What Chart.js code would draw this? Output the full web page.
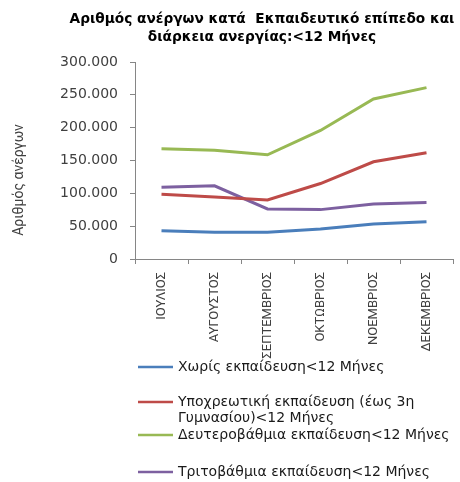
<!DOCTYPE html>
<html>
<head>
<meta charset="utf-8">
<script src="https://cdn.jsdelivr.net/npm/chart.js@4.4.1/dist/chart.umd.min.js"></script>
<style>
  html, body { margin: 0; padding: 0; background: #fff; }
</style>
</head>
<body>
<canvas id="chart" width="460" height="482"></canvas>
<script>
const months = ['ΙΟΥΛΙΟΣ', 'ΑΥΓΟΥΣΤΟΣ', 'ΣΕΠΤΕΜΒΡΙΟΣ', 'ΟΚΤΩΒΡΙΟΣ', 'ΝΟΕΜΒΡΙΟΣ', 'ΔΕΚΕΜΒΡΙΟΣ']

const noEducation = [43200, 40600, 40600, 45800, 53400, 56900]
const compulsory = [98600, 94600, 90000, 114900, 148000, 161800]
const secondary = [167900, 165700, 158700, 195800, 243600, 261000]
const tertiary = [109300, 111400, 76300, 75200, 83900, 85900]

const seriesNames = [
  'Χωρίς εκπαίδευση<12 Μήνες',
  'Υποχρεωτική εκπαίδευση (έως 3η Γυμνασίου)<12 Μήνες',
  'Δευτεροβάθμια εκπαίδευση<12 Μήνες',
  'Τριτοβάθμια εκπαίδευση<12 Μήνες'
]
const seriesColors = ['#4A7EBB', '#BE4B48', '#98B954', '#7D60A0']

const titleLines = ['Αριθμός ανέργων κατά  Εκπαιδευτικό επίπεδο και', 'διάρκεια ανεργίας:<12 Μήνες']
const yTitle = 'Αριθμός ανέργων'

const yMin = 0
const yMax = 300000
const yStep = 50000

const axisColor = '#868686'
const textColor = '#404040'

function formatThousands(v) {
  return String(v).replace(/\B(?=(\d{3})+(?!\d))/g, '.')
}

// title, rotated y title and the vertical legend are drawn by hand
const decorations = {
  id: 'decorations',
  afterDraw(chart) {
    const ctx = chart.ctx
    ctx.save()

    ctx.fillStyle = '#000'
    ctx.font = 'bold 13.7px "DejaVu Sans"'
    ctx.textAlign = 'center'
    ctx.textBaseline = 'middle'
    ctx.fillText(titleLines[0], 262, 19)
    ctx.fillText(titleLines[1], 262, 37)

    ctx.save()
    ctx.translate(19, 180)
    ctx.rotate(-Math.PI / 2)
    ctx.fillStyle = textColor
    ctx.font = '14px "Liberation Sans Narrow", Roboto'
    ctx.fillText(yTitle, 0, 0)
    ctx.restore()

    const rowY = [367, 402, 435, 472]
    ctx.font = '14px "DejaVu Sans"'
    ctx.textAlign = 'left'
    chart.data.datasets.forEach((ds, i) => {
      const y = rowY[i]
      ctx.strokeStyle = ds.borderColor
      ctx.lineWidth = 2.5
      ctx.beginPath()
      ctx.moveTo(138, y)
      ctx.lineTo(173, y)
      ctx.stroke()

      // wrap long labels
      const words = ds.label.split(' ')
      let lines = []
      let line = ''
      words.forEach(w => {
        const test = line ? line + ' ' + w : w
        if (ctx.measureText(test).width > 280 && line) {
          lines.push(line)
          line = w
        } else {
          line = test
        }
      })
      lines.push(line)
      ctx.fillStyle = '#1a1a1a'
      lines.forEach((l, j) => ctx.fillText(l, 178, y + j * 16))
    })

    ctx.restore()
  }
}

const datasets = [noEducation, compulsory, secondary, tertiary].map((values, i) => ({
  label: seriesNames[i],
  data: values,
  borderColor: seriesColors[i],
  backgroundColor: seriesColors[i],
  borderWidth: 3,
  pointRadius: 0,
  tension: 0,
  fill: false
}))

new Chart(document.getElementById('chart'), {
  type: 'line',
  data: { labels: months, datasets },
  plugins: [decorations],
  options: {
    responsive: false,
    devicePixelRatio: 1,
    animation: false,
    layout: { padding: { top: 62, left: 0, right: 7, bottom: 123 } },
    plugins: {
      legend: { display: false },
      title: { display: false },
      tooltip: { enabled: false }
    },
    scales: {
      x: {
        offset: true,
        grid: { offset: true, drawOnChartArea: false, tickLength: 5, color: axisColor },
        border: { color: axisColor },
        ticks: {
          minRotation: 90,
          maxRotation: 90,
          padding: 8,
          color: textColor,
          font: { family: '"Liberation Sans Narrow", Roboto', size: 13 }
        },
        afterFit(scale) {
          scale.height = 100
          scale.paddingLeft = 0
          scale.paddingRight = 0
        }
      },
      y: {
        min: yMin,
        max: yMax,
        grid: { drawOnChartArea: false, tickLength: 5, color: axisColor },
        border: { color: axisColor },
        ticks: {
          stepSize: yStep,
          padding: 12,
          color: textColor,
          font: { family: '"DejaVu Sans"', size: 14 },
          callback: v => formatThousands(v)
        },
        afterFit(scale) {
          scale.width = 135
          scale.paddingTop = 0
          scale.paddingBottom = 0
        }
      }
    }
  }
})
</script>
</body>
</html>
